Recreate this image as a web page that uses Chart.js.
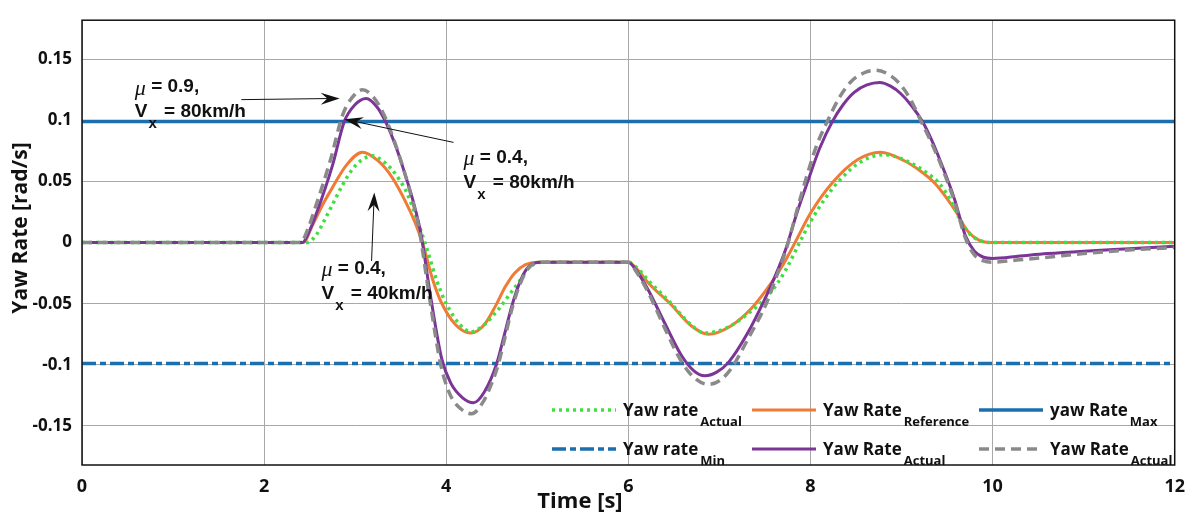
<!DOCTYPE html>
<html>
<head>
<meta charset="utf-8">
<script src="https://cdn.jsdelivr.net/npm/chart.js@4"></script>
<style>
  html, body { margin: 0; padding: 0; background: #fff; }
</style>
</head>
<body>
<canvas id="yawChart" width="1196" height="516"></canvas>
<script>
// ---- data ----
const xTickValues = [0, 2, 4, 6, 8, 10, 12];
const yTickValues = [-0.15, -0.1, -0.05, 0, 0.05, 0.1, 0.15];
const yTickLabels = ['-0.15', '-0.1', '-0.05', '0', '0.05', '0.1', '0.15'];

// Yaw rate Actual (green dotted)
const tGreen = [0, 2.47, 2.57, 2.66, 2.75, 2.86, 2.97, 3.08, 3.19, 3.30, 3.40, 3.48, 3.56, 3.64, 3.72, 3.80, 3.90, 4.00, 4.15, 4.27, 4.42, 4.58, 4.70, 4.80, 4.90, 4.98, 5.08,
    6.0, 6.1, 6.22, 6.46, 6.67, 6.84, 7.10, 7.35, 7.50, 7.64, 7.76, 7.88, 8.0, 8.16, 8.32, 8.55, 8.81, 9.08, 9.26, 9.42, 9.55, 9.65, 9.75, 9.85, 10.0, 12];
const yGreen = [0, 0, 0.006, 0.018, 0.031, 0.047, 0.060, 0.068, 0.071, 0.067, 0.060, 0.052, 0.042, 0.027, 0.010, -0.008, -0.032, -0.050, -0.067, -0.073, -0.067, -0.054, -0.042, -0.032, -0.021, -0.017, -0.016,
    -0.016, -0.021, -0.031, -0.049, -0.066, -0.074, -0.069, -0.056, -0.046, -0.033, -0.018, 0.0, 0.017, 0.036, 0.051, 0.066, 0.072, 0.066, 0.058, 0.048, 0.033, 0.018, 0.007, 0.002, 0, 0];

// Yaw Rate Reference (orange)
const tRef = [0, 2.43, 2.53, 2.65, 2.75, 2.90, 3.08, 3.25, 3.40, 3.55, 3.66, 3.75, 3.85, 3.94, 4.10, 4.27, 4.42, 4.54, 4.65, 4.75, 4.87, 5.0,
    6.0, 6.1, 6.22, 6.46, 6.69, 6.88, 7.13, 7.35, 7.57, 7.70, 7.83, 8.0, 8.24, 8.52, 8.77, 9.03, 9.20, 9.36, 9.50, 9.60, 9.72, 9.85, 10.0, 12];
const yRef = [0, 0, 0.014, 0.032, 0.045, 0.063, 0.074, 0.067, 0.054, 0.034, 0.016, -0.003, -0.030, -0.048, -0.067, -0.074, -0.067, -0.052, -0.036, -0.025, -0.018, -0.016,
    -0.016, -0.022, -0.033, -0.050, -0.068, -0.075, -0.068, -0.054, -0.033, -0.018, 0.0, 0.024, 0.049, 0.068, 0.074, 0.067, 0.059, 0.049, 0.036, 0.025, 0.010, 0.002, 0, 0];

// yaw Rate Max / Min
const tLimit = [0, 12];
const yMax = [0.099, 0.099];
const yMin = [-0.099, -0.099];

// Yaw Rate Actual (purple)
const tPurple = [0, 2.42, 2.50, 2.57, 2.75, 2.88, 3.0, 3.12, 3.24, 3.34, 3.45, 3.56, 3.64, 3.72, 3.83, 3.95, 4.05, 4.18, 4.30, 4.42, 4.55, 4.64, 4.72, 4.80, 4.88, 4.96, 5.05,
    6.0, 6.08, 6.22, 6.40, 6.58, 6.72, 6.84, 6.97, 7.10, 7.31, 7.50, 7.62, 7.73, 7.85, 7.97, 8.10, 8.24, 8.36, 8.48, 8.62, 8.76, 8.88, 8.99, 9.11, 9.23, 9.33, 9.43, 9.58, 9.70, 9.80, 9.90, 10.0, 10.3, 10.6, 11.0, 11.5, 12];
const yPurple = [0, 0, 0.010, 0.023, 0.063, 0.099, 0.113, 0.118, 0.111, 0.098, 0.078, 0.053, 0.033, 0.008, -0.045, -0.095, -0.115, -0.127, -0.131, -0.122, -0.10, -0.075, -0.052, -0.034, -0.022, -0.017, -0.016,
    -0.016, -0.022, -0.039, -0.066, -0.092, -0.105, -0.109, -0.106, -0.098, -0.074, -0.046, -0.026, -0.005, 0.024, 0.05, 0.077, 0.099, 0.113, 0.123, 0.129, 0.131, 0.128, 0.122, 0.112, 0.099, 0.084, 0.066, 0.036, 0.006, -0.007, -0.012, -0.013, -0.011, -0.009, -0.007, -0.005, -0.003];

// Yaw Rate Actual (grey dashed)
const tGrey = [0, 2.40, 2.48, 2.55, 2.73, 2.86, 2.97, 3.08, 3.20, 3.32, 3.43, 3.54, 3.62, 3.70, 3.82, 3.94, 4.04, 4.16, 4.28, 4.40, 4.50, 4.57, 4.65, 4.73, 4.81, 4.89, 4.97, 5.06,
    6.0, 6.08, 6.22, 6.40, 6.58, 6.73, 6.88, 7.0, 7.12, 7.32, 7.52, 7.63, 7.74, 7.85, 7.95, 8.07, 8.19, 8.32, 8.45, 8.59, 8.72, 8.85, 8.98, 9.10, 9.21, 9.32, 9.42, 9.58, 9.70, 9.80, 9.90, 10.0, 10.3, 10.6, 11.0, 11.5, 12];
const yGrey = [0, 0, 0.011, 0.026, 0.068, 0.104, 0.119, 0.125, 0.119, 0.104, 0.083, 0.058, 0.037, 0.012, -0.047, -0.10, -0.124, -0.136, -0.140, -0.131, -0.115, -0.10, -0.076, -0.052, -0.034, -0.022, -0.017, -0.016,
    -0.016, -0.023, -0.041, -0.070, -0.097, -0.111, -0.116, -0.113, -0.104, -0.078, -0.049, -0.027, -0.004, 0.026, 0.052, 0.080, 0.100, 0.119, 0.132, 0.139, 0.141, 0.138, 0.130, 0.117, 0.100, 0.083, 0.066, 0.034, 0.004, -0.010, -0.015, -0.016, -0.014, -0.012, -0.009, -0.006, -0.004];

// legend (main text + subscript), in the grid order of the figure
const legendMain = ['Yaw rate', 'Yaw Rate', 'yaw Rate', 'Yaw rate', 'Yaw Rate', 'Yaw Rate'];
const legendSub = ['Actual', 'Reference', 'Max', 'Min', 'Actual', 'Actual'];
const legendDataset = [0, 1, 2, 3, 4, 5];

// annotations: text anchor and arrow (data coords)
const noteMu = ['0.9', '0.4', '0.4'];
const noteSpeed = ['80km/h', '80km/h', '40km/h'];
const noteText = [[0.58, 0.1275], [4.19, 0.0696], [2.63, -0.0213]];
const noteArrowFrom = [[1.75, 0.117], [4.08, 0.082], [3.18, -0.015]];
const noteArrowTo = [[2.83, 0.118], [2.88, 0.101], [3.21, 0.041]];

function pts(ts, ys) {
    return ts.map((t, i) => ({ x: t, y: ys[i] }));
}

const blue = '#1b6fae';

const whiteBg = {
    id: 'whiteBg',
    beforeDraw(chart) {
        const ctx = chart.ctx;
        ctx.save();
        ctx.fillStyle = '#fff';
        ctx.fillRect(0, 0, chart.width, chart.height);
        ctx.restore();
    }
};

function drawArrow(ctx, x1, y1, x2, y2) {
    const ang = Math.atan2(y2 - y1, x2 - x1);
    const L = 19, W = 6;
    ctx.beginPath();
    ctx.moveTo(x1, y1);
    ctx.lineTo(x2 - L * 0.6 * Math.cos(ang), y2 - L * 0.6 * Math.sin(ang));
    ctx.stroke();
    ctx.save();
    ctx.translate(x2, y2);
    ctx.rotate(ang);
    ctx.beginPath();
    ctx.moveTo(0, 0);
    ctx.lineTo(-L, -W);
    ctx.lineTo(-L * 0.65, 0);
    ctx.lineTo(-L, W);
    ctx.closePath();
    ctx.fill();
    ctx.restore();
}

function drawNote(ctx, x, y, mu, speed) {
    ctx.textBaseline = 'middle';
    ctx.textAlign = 'left';
    ctx.font = 'italic 22px "Liberation Serif"';
    ctx.fillText('\u03bc', x, y + 2);
    const wm = ctx.measureText('\u03bc').width;
    ctx.font = 'bold 19px "Liberation Sans"';
    ctx.fillText(' = ' + mu + ',', x + wm, y);
    const y2 = y + 25;
    ctx.fillText('V', x, y2);
    const wv = ctx.measureText('V').width;
    ctx.font = 'bold 15px "Liberation Sans"';
    ctx.fillText('x', x + wv + 1, y2 + 12);
    const wx = ctx.measureText('x').width;
    ctx.font = 'bold 19px "Liberation Sans"';
    ctx.fillText(' = ' + speed, x + wv + wx + 3, y2);
}

const extras = {
    id: 'extras',
    afterDraw(chart) {
        const ctx = chart.ctx;
        const xs = chart.scales.x, ys = chart.scales.y;
        const area = chart.chartArea;

        // plot box
        ctx.save();
        ctx.strokeStyle = '#111';
        ctx.lineWidth = 1.5;
        ctx.strokeRect(area.left, area.top, area.right - area.left, area.bottom - area.top);
        ctx.restore();

        // arrows + notes
        ctx.save();
        ctx.strokeStyle = '#111';
        ctx.fillStyle = '#111';
        ctx.lineWidth = 1;
        noteArrowFrom.forEach((p, i) => {
            drawArrow(ctx, xs.getPixelForValue(p[0]), ys.getPixelForValue(p[1]),
                xs.getPixelForValue(noteArrowTo[i][0]), ys.getPixelForValue(noteArrowTo[i][1]));
        });
        noteText.forEach((p, i) => {
            drawNote(ctx, xs.getPixelForValue(p[0]), ys.getPixelForValue(p[1]), noteMu[i], noteSpeed[i]);
        });
        ctx.restore();

        // legend with subscripts
        const colX = [552, 752, 979];
        const rowY = [410, 449];
        ctx.save();
        legendDataset.forEach((di, k) => {
            const ds = chart.data.datasets[di];
            const x0 = colX[k % 3], y0 = rowY[Math.floor(k / 3)];
            ctx.strokeStyle = ds.borderColor;
            ctx.lineWidth = ds.borderWidth;
            ctx.setLineDash(ds.borderDash || []);
            ctx.beginPath();
            ctx.moveTo(x0, y0);
            ctx.lineTo(x0 + 64, y0);
            ctx.stroke();
            ctx.setLineDash([]);
            ctx.fillStyle = '#111';
            ctx.textBaseline = 'middle';
            ctx.font = 'bold 17px "Open Sans"';
            ctx.fillText(legendMain[k], x0 + 71, y0 + 1);
            const w = ctx.measureText(legendMain[k]).width;
            ctx.font = 'bold 13px "Open Sans"';
            ctx.fillText(legendSub[k], x0 + 73 + w, y0 + 12);
        });
        ctx.restore();

        // axis titles
        ctx.save();
        ctx.fillStyle = '#111';
        ctx.textAlign = 'center';
        ctx.textBaseline = 'middle';
        ctx.font = 'bold 22px "Open Sans"';
        ctx.fillText('Time [s]', 580, 502);
        ctx.translate(21, 228);
        ctx.rotate(-Math.PI / 2);
        ctx.font = 'bold 21px "Open Sans"';
        ctx.fillText('Yaw Rate [rad/s]', 0, 0);
        ctx.restore();
    }
};

new Chart(document.getElementById('yawChart'), {
    type: 'line',
    data: {
        datasets: [
            { label: 'Yaw rate Actual', data: pts(tGreen, yGreen), borderColor: '#3fdf3f', borderWidth: 3.5, borderDash: [3, 4], order: 2 },
            { label: 'Yaw Rate Reference', data: pts(tRef, yRef), borderColor: '#ef7b36', borderWidth: 3, order: 3 },
            { label: 'yaw Rate Max', data: pts(tLimit, yMax), borderColor: blue, borderWidth: 3.5, order: 5 },
            { label: 'Yaw rate Min', data: pts(tLimit, yMin), borderColor: blue, borderWidth: 3.5, borderDash: [14, 4, 6, 4], order: 4 },
            { label: 'Yaw Rate Actual', data: pts(tPurple, yPurple), borderColor: '#7b3596', borderWidth: 3, order: 1 },
            { label: 'Yaw Rate Actual', data: pts(tGrey, yGrey), borderColor: '#8a8a8a', borderWidth: 3.5, borderDash: [10, 6], order: 0 }
        ]
    },
    options: {
        responsive: false,
        animation: false,
        layout: { padding: { top: 12, right: 18, left: 0, bottom: 0 } },
        elements: {
            point: { radius: 0 },
            line: { cubicInterpolationMode: 'monotone', fill: false }
        },
        plugins: {
            legend: { display: false },
            tooltip: { enabled: false }
        },
        scales: {
            x: {
                type: 'linear',
                min: 0,
                max: 12,
                afterBuildTicks: function(scale) {
                    scale.ticks = xTickValues.map(v => ({ value: v }));
                },
                afterFit: function(scale) { scale.height = 51; },
                grid: { color: '#a8a8a8', lineWidth: 1, drawTicks: false },
                border: { display: false },
                ticks: {
                    padding: 11,
                    color: '#111',
                    font: { family: 'Open Sans', weight: 'bold', size: 18 },
                    maxRotation: 0
                }
            },
            y: {
                min: -0.182,
                max: 0.182,
                afterBuildTicks: function(scale) {
                    scale.ticks = yTickValues.map(v => ({ value: v }));
                },
                afterFit: function(scale) { scale.width = 82; },
                grid: { color: '#a8a8a8', lineWidth: 1, drawTicks: false },
                border: { display: false },
                ticks: {
                    padding: 10,
                    color: '#111',
                    font: { family: 'Open Sans', weight: 'bold', size: 17 },
                    callback: function(value, index) {
                        return yTickLabels[index];
                    }
                }
            }
        }
    },
    plugins: [whiteBg, extras]
});
</script>
</body>
</html>
